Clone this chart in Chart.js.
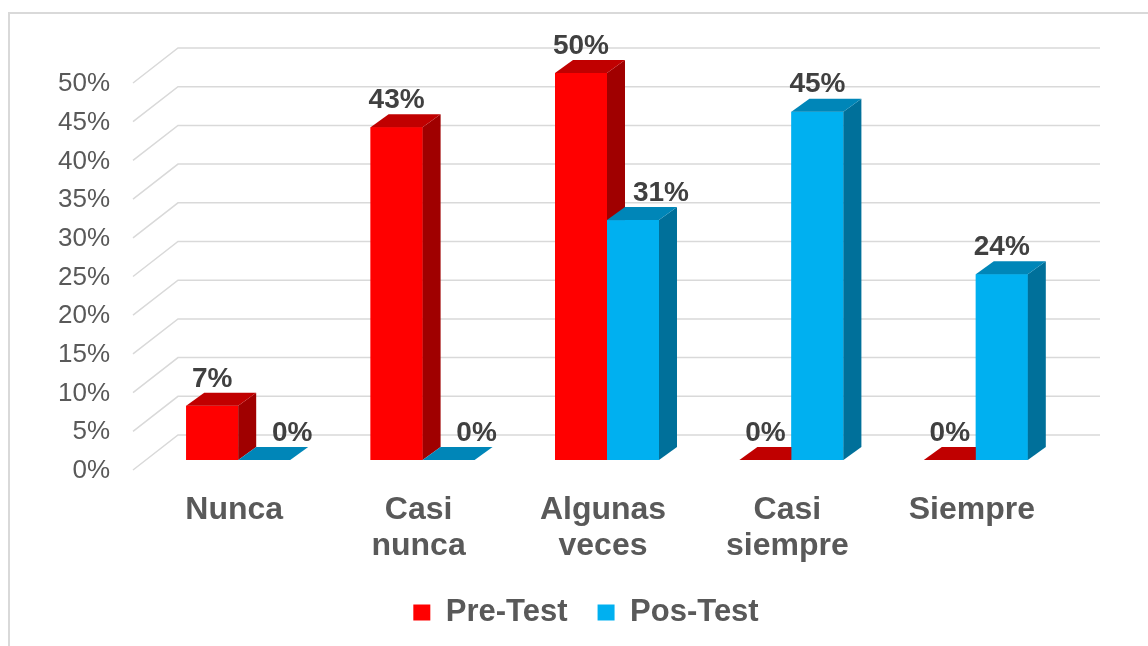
<!DOCTYPE html>
<html>
<head>
<meta charset="utf-8">
<script src="https://cdn.jsdelivr.net/npm/chart.js@4.4.0/dist/chart.umd.min.js"></script>
<style>
  html, body { margin: 0; padding: 0; background: #fff; overflow: hidden; }
  #bingkai { position: absolute; left: 8px; top: 12px; width: 1400px; height: 900px; border: 2px solid #d9d9d9; box-sizing: border-box; }
  #wadah { position: absolute; left: 0; top: 0; width: 1148px; height: 646px; }
</style>
</head>
<body>
<div id="bingkai"></div>
<div id="wadah"><canvas id="grafik" width="1148" height="646"></canvas></div>
<script>
// data
const kategori = ['Nunca', ['Casi', 'nunca'], ['Algunas', 'veces'], ['Casi', 'siempre'], 'Siempre'];
const preTest = [7, 43, 50, 0, 0];
const posTest = [0, 0, 31, 45, 24];
const sumbuY = { min: 0, max: 50, langkah: 5 };

// geser kedalaman (pixel) relatif terhadap bidang batang
const BELAKANG = { dx: 32, dy: -25 };
const DEPAN = { dx: -13, dy: 10 };
const TEBAL = { dx: 18, dy: -13 };

const warna = [
    { depan: '#ff0000', atas: '#c00000', sisi: '#a00000' },
    { depan: '#00b0f0', atas: '#0086b8', sisi: '#00709a' }
];
const HURUF = '"Liberation Sans", Arial, sans-serif';

function poligon(ctx, titik, isi) {
    ctx.beginPath();
    ctx.moveTo(titik[0][0], titik[0][1]);
    for (let i = 1; i < titik.length; i++) ctx.lineTo(titik[i][0], titik[i][1]);
    ctx.closePath();
    ctx.fillStyle = isi;
    ctx.fill();
}

const efek3d = {
    id: 'efek3d',
    afterLayout(chart) {
        // legenda di gambar asli agak ke kanan dari tengah
        chart.legend.left += 52;
        chart.legend.right += 52;
    },
    beforeDatasetsDraw(chart) {
        const { ctx, chartArea: a, scales: { y } } = chart;
        ctx.save();
        ctx.strokeStyle = '#d9d9d9';
        ctx.lineWidth = 1.5;
        y.ticks.forEach(t => {
            const py = y.getPixelForValue(t.value);
            ctx.beginPath();
            ctx.moveTo(a.left + DEPAN.dx, py + DEPAN.dy);
            ctx.lineTo(a.left + BELAKANG.dx, py + BELAKANG.dy);
            ctx.lineTo(a.right + BELAKANG.dx, py + BELAKANG.dy);
            ctx.stroke();
        });
        ctx.restore();
    },
    afterDatasetsDraw(chart) {
        const ctx = chart.ctx;
        ctx.save();
        chart.data.datasets.forEach((ds, di) => {
            const w = warna[di];
            chart.getDatasetMeta(di).data.forEach(bar => {
                const x0 = bar.x - bar.width / 2, x1 = bar.x + bar.width / 2;
                const atas = bar.y, dasar = bar.base;
                ctx.fillStyle = w.depan;
                ctx.fillRect(x0, atas, x1 - x0, dasar - atas);
                if (dasar - atas > 0.5) {
                    poligon(ctx, [[x1, atas], [x1 + TEBAL.dx, atas + TEBAL.dy], [x1 + TEBAL.dx, dasar + TEBAL.dy], [x1, dasar]], w.sisi);
                }
                poligon(ctx, [[x0, atas], [x0 + TEBAL.dx, atas + TEBAL.dy], [x1 + TEBAL.dx, atas + TEBAL.dy], [x1, atas]], w.atas);
            });
        });

        // label nilai
        ctx.font = 'bold 28px ' + HURUF;
        ctx.fillStyle = '#404040';
        ctx.textAlign = 'center';
        ctx.textBaseline = 'middle';
        chart.data.datasets.forEach((ds, di) => {
            chart.getDatasetMeta(di).data.forEach((bar, i) => {
                let geser = 0;
                // label Pos-Test digeser ke kanan kalau batang Pre-Test lebih tinggi
                if (di === 1 && preTest[i] > posTest[i]) geser = 28;
                ctx.fillText(ds.data[i] + '%', bar.x + geser, bar.y - 27);
            });
        });
        ctx.restore();
    }
};

new Chart(document.getElementById('grafik'), {
    type: 'bar',
    data: {
        labels: kategori,
        datasets: [
            { label: 'Pre-Test', data: preTest, backgroundColor: warna[0].depan },
            { label: 'Pos-Test', data: posTest, backgroundColor: warna[1].depan }
        ]
    },
    options: {
        responsive: false,
        animation: false,
        categoryPercentage: 0.564,
        barPercentage: 1,
        layout: { padding: { left: 0, right: 80, top: 73, bottom: 8 } },
        scales: {
            x: {
                grid: { display: false, drawTicks: false },
                border: { display: false },
                ticks: {
                    font: { family: HURUF, size: 32, weight: 'bold', lineHeight: 1.125 },
                    color: '#595959',
                    padding: 32,
                    labelOffset: -4,
                    maxRotation: 0,
                    autoSkip: false
                },
                afterFit: s => { s.height = 107; }
            },
            y: {
                min: sumbuY.min,
                max: sumbuY.max,
                grid: { display: false, drawTicks: false },
                border: { display: false },
                ticks: {
                    stepSize: sumbuY.langkah,
                    font: { family: HURUF, size: 26 },
                    color: '#595959',
                    padding: 36,
                    labelOffset: 11,
                    callback: v => v + '%'
                },
                afterFit: s => { s.width = 146; }
            }
        },
        plugins: {
            legend: {
                position: 'bottom',
                labels: {
                    font: { family: HURUF, size: 31, weight: 'bold' },
                    color: '#595959',
                    boxWidth: 17,
                    boxHeight: 16,
                    padding: 30
                }
            },
            tooltip: { enabled: false }
        }
    },
    plugins: [efek3d]
});
</script>
</body>
</html>
